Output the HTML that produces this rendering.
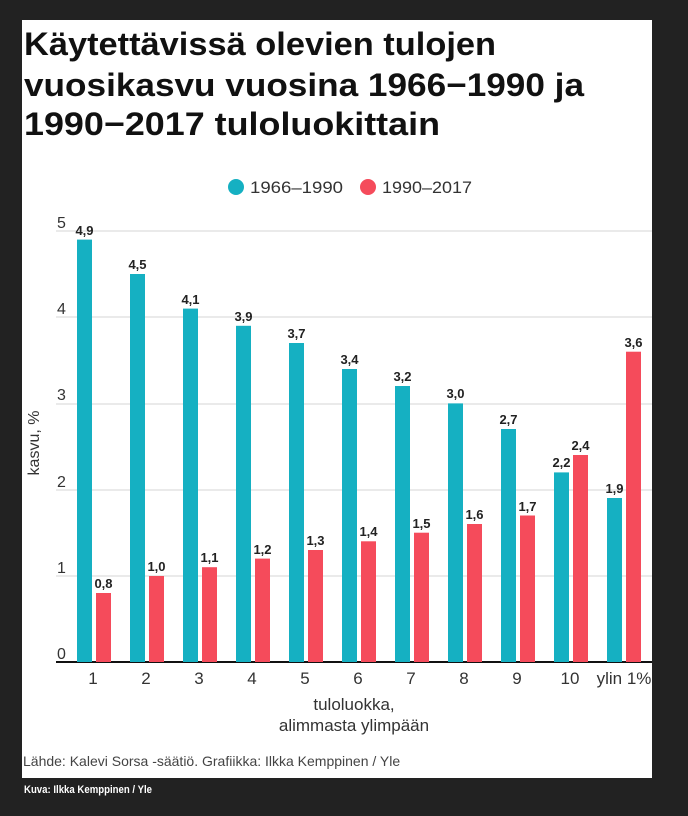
<!DOCTYPE html>
<html><head><meta charset="utf-8"><style>
html,body{margin:0;padding:0;background:#222;}
svg{display:block;}
text{font-family:"Liberation Sans",sans-serif;}
</style></head><body>
<svg width="688" height="816" viewBox="0 0 688 816" xmlns="http://www.w3.org/2000/svg">
<rect x="0" y="0" width="688" height="816" fill="#222"/>
<rect x="22" y="20" width="630" height="758" fill="#fff"/>
<g font-weight="bold" font-size="32" fill="#111">
<text x="24" y="55" textLength="472" lengthAdjust="spacingAndGlyphs">Käytettävissä olevien tulojen</text>
<text x="24" y="96" textLength="560" lengthAdjust="spacingAndGlyphs">vuosikasvu vuosina 1966−1990 ja</text>
<text x="24" y="135" textLength="416" lengthAdjust="spacingAndGlyphs">1990−2017 tuloluokittain</text>
</g>
<circle cx="236" cy="187" r="8" fill="#15b0c2"/>
<text x="250" y="193" font-size="17" fill="#333" textLength="93" lengthAdjust="spacingAndGlyphs">1966–1990</text>
<circle cx="368" cy="187" r="8" fill="#f54b5b"/>
<text x="382" y="193" font-size="17" fill="#333" textLength="90" lengthAdjust="spacingAndGlyphs">1990–2017</text>
<g stroke="#ddd" stroke-width="1.2">
<line x1="56" y1="231" x2="652" y2="231"/>
<line x1="56" y1="317" x2="652" y2="317"/>
<line x1="56" y1="404" x2="652" y2="404"/>
<line x1="56" y1="490" x2="652" y2="490"/>
<line x1="56" y1="576" x2="652" y2="576"/>
</g>
<g font-size="16" fill="#333">
<text x="57" y="228">5</text><text x="57" y="314">4</text><text x="57" y="400">3</text>
<text x="57" y="487">2</text><text x="57" y="573">1</text><text x="57" y="659">0</text>
</g>
<text transform="translate(39,443) rotate(-90)" text-anchor="middle" font-size="16" fill="#333">kasvu, %</text>
<g id="bars"></g>
<line x1="56" y1="662" x2="652" y2="662" stroke="#111" stroke-width="2"/>
<g font-size="17" fill="#333" text-anchor="middle">
<text x="93" y="684">1</text><text x="146" y="684">2</text><text x="199" y="684">3</text>
<text x="252" y="684">4</text><text x="305" y="684">5</text><text x="358" y="684">6</text>
<text x="411" y="684">7</text><text x="464" y="684">8</text><text x="517" y="684">9</text>
<text x="570" y="684">10</text><text x="624" y="684">ylin 1%</text>
<text x="354" y="710">tuloluokka,</text>
<text x="354" y="731">alimmasta ylimpään</text>
</g>
<text x="23" y="766" font-size="14" fill="#444">Lähde: Kalevi Sorsa -säätiö. Grafiikka: Ilkka Kemppinen / Yle</text>
<text x="24" y="793" font-size="11" font-weight="bold" fill="#fff" textLength="128" lengthAdjust="spacingAndGlyphs">Kuva: Ilkka Kemppinen / Yle</text>
<g font-size="13" font-weight="bold" fill="#222" text-anchor="middle">
<rect x="77" y="239.6" width="15" height="422.4" fill="#15b0c2"/><text x="84.5" y="235">4,9</text>
<rect x="96" y="593" width="15" height="69" fill="#f54b5b"/><text x="103.5" y="588">0,8</text>
<rect x="130" y="274" width="15" height="388" fill="#15b0c2"/><text x="137.5" y="269">4,5</text>
<rect x="149" y="576" width="15" height="86" fill="#f54b5b"/><text x="156.5" y="571">1,0</text>
<rect x="183" y="308.6" width="15" height="353.4" fill="#15b0c2"/><text x="190.5" y="304">4,1</text>
<rect x="202" y="567.2" width="15" height="94.8" fill="#f54b5b"/><text x="209.5" y="562">1,1</text>
<rect x="236" y="325.8" width="15" height="336.2" fill="#15b0c2"/><text x="243.5" y="321">3,9</text>
<rect x="255" y="558.6" width="15" height="103.4" fill="#f54b5b"/><text x="262.5" y="554">1,2</text>
<rect x="289" y="343" width="15" height="319" fill="#15b0c2"/><text x="296.5" y="338">3,7</text>
<rect x="308" y="550" width="15" height="112" fill="#f54b5b"/><text x="315.5" y="545">1,3</text>
<rect x="342" y="369" width="15" height="293" fill="#15b0c2"/><text x="349.5" y="364">3,4</text>
<rect x="361" y="541.3" width="15" height="120.7" fill="#f54b5b"/><text x="368.5" y="536">1,4</text>
<rect x="395" y="386" width="15" height="276" fill="#15b0c2"/><text x="402.5" y="381">3,2</text>
<rect x="414" y="532.7" width="15" height="129.3" fill="#f54b5b"/><text x="421.5" y="528">1,5</text>
<rect x="448" y="403.4" width="15" height="258.6" fill="#15b0c2"/><text x="455.5" y="398">3,0</text>
<rect x="467" y="524" width="15" height="138" fill="#f54b5b"/><text x="474.5" y="519">1,6</text>
<rect x="501" y="429" width="15" height="233" fill="#15b0c2"/><text x="508.5" y="424">2,7</text>
<rect x="520" y="515.5" width="15" height="146.5" fill="#f54b5b"/><text x="527.5" y="511">1,7</text>
<rect x="554" y="472.4" width="15" height="189.6" fill="#15b0c2"/><text x="561.5" y="467">2,2</text>
<rect x="573" y="455" width="15" height="207" fill="#f54b5b"/><text x="580.5" y="450">2,4</text>
<rect x="607" y="498" width="15" height="164" fill="#15b0c2"/><text x="614.5" y="493">1,9</text>
<rect x="626" y="351.7" width="15" height="310.3" fill="#f54b5b"/><text x="633.5" y="347">3,6</text>
</g>
</svg>
</body></html>
